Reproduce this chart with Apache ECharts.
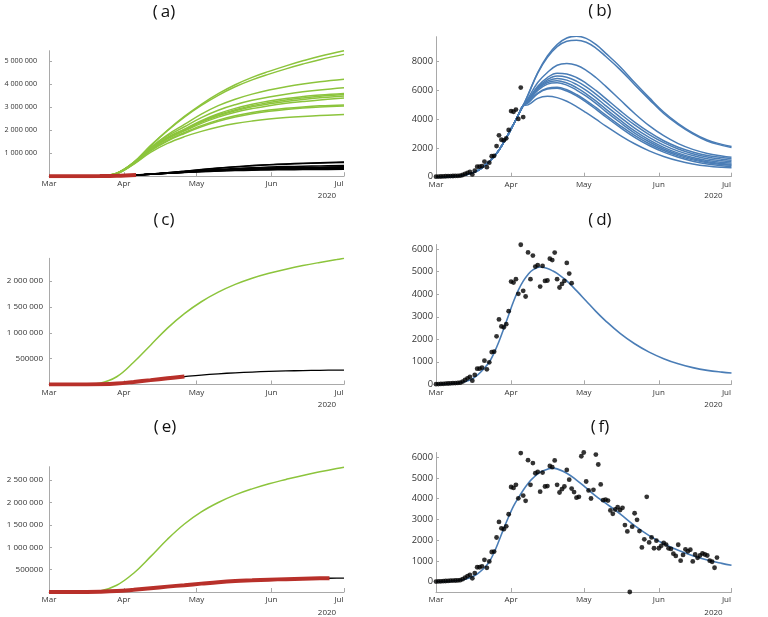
<!DOCTYPE html>
<html><head><meta charset="utf-8">
<script src="https://cdn.jsdelivr.net/npm/echarts@6/dist/echarts.min.js"></script>
<style>html,body{margin:0;padding:0;background:#fff}#c{width:768px;height:617px}</style>
</head><body><div id="c"></div><script>
// ---------- axis / labels ----------
const monthLabels = ['Mar','Apr','May','Jun','Jul'];
const monthDays = [0, 31, 61, 92, 122];          // days since 1 Mar 2020
const yearLabel = '2020';
const panelTitles = ['(\u2009a)','(\u2009b)','(\u2009c)','(\u2009d)','(\u2009e)','(\u2009f)'];

// ---------- observed daily new cases, day 0 = 1 Mar ----------
const dailyCases = [
  5,10,15,20,30,35,45,50,55,60,70,
  120,190,265,330,160,415,695,695,740,1050,
  665,975,1430,1450,2130,2880,2570,2530,2670,3250,
  4565,4520,4670,4020,6200,4150,3900,5860,4670,5720,
  5230,5290,4340,5260,4590,4610,5580,5520,5850,4670,
  4300,4460,4590,5390,4920,4490,4320,4050,4090,6050,
  6230,4830,4400,4010,4430,6130,5650,4690,3930,3960,
  3910,3435,3270,3480,3590,3450,3560,2730,2420,-500,
  2650,3300,2980,2440,1650,2040,4090,1890,2135,1610,
  1975,1610,1730,1870,1790,1605,1580,1350,1240,1780,
  1010,1290,1560,1460,1540,975,1310,1150,1260,1360,
  1310,1260,1010,960,670,1160
];
const dataEndB = 36, dataEndD = 56;

// ---------- observed cumulative cases (red) ----------
const aRedDays = [0,7,14,21,28,36];
const aRed = [10,280,1400,5820,19785,53830];
const cumDays  = [0,7,14,21,28,35,42,49,56,63,70,77,84,91,98,105,112,116];
const cumCases = [10,280,1400,5820,19785,49680,84500,120250,153070,187040,219840,244535,260555,275945,287480,297360,305985,309785];

// ---------- panel (a): green model curves ----------
const aGreenHeadDays = [0,14,21];
const aGreenHead = [0,0,10000];
const aGreenDays = [28,35,42,49,56,63,70,77,84,91,98,105,112,122];
const aGreen1  = [130000,600000,1330000,2000000,2600000,3130000,3590000,3980000,4300000,4560000,4800000,5020000,5220000,5460000];
const aGreen2  = [130000,600000,1320000,1980000,2570000,3080000,3520000,3890000,4190000,4440000,4670000,4880000,5070000,5300000];
const aGreen3  = [130000,590000,1250000,1800000,2250000,2700000,3070000,3350000,3570000,3750000,3890000,4010000,4110000,4220000];
const aGreen4  = [125000,580000,1220000,1750000,2150000,2550000,2870000,3110000,3300000,3450000,3570000,3670000,3755000,3850000];
const aGreen5  = [125000,570000,1190000,1690000,2050000,2420000,2720000,2950000,3130000,3270000,3380000,3465000,3535000,3600000];
const aGreen6  = [125000,565000,1180000,1670000,2020000,2380000,2670000,2890000,3070000,3210000,3320000,3405000,3475000,3550000];
const aGreen7  = [120000,560000,1170000,1650000,2000000,2350000,2630000,2850000,3020000,3150000,3255000,3340000,3410000,3490000];
const aGreen8  = [120000,555000,1150000,1620000,1970000,2300000,2570000,2780000,2940000,3070000,3170000,3250000,3320000,3400000];
const aGreen9  = [120000,545000,1120000,1560000,1900000,2200000,2440000,2630000,2770000,2875000,2955000,3015000,3060000,3100000];
const aGreen10 = [118000,540000,1100000,1530000,1860000,2150000,2390000,2580000,2720000,2825000,2905000,2965000,3010000,3050000];
const aGreen11 = [115000,520000,1040000,1430000,1720000,1950000,2140000,2290000,2400000,2485000,2550000,2600000,2640000,2680000];

// ---------- panel (a): black model cumulative curves ----------
const aBlackHeadDays = [0,14,21,28,36];
const aBlackHead = [0,1400,5800,19800,54000];
const aBlackDays = [42,49,56,63,70,77,84,91,98,105,112,122];
const aBlack1  = [93000,152000,220000,290000,356000,414000,464000,505000,538000,565000,587000,615000];
const aBlack2  = [92000,150000,216000,284000,348000,404000,452000,491000,523000,549000,570000,597000];
const aBlack3  = [90000,140000,195000,248000,296000,337000,371000,398000,419000,435000,448000,463000];
const aBlack4  = [89000,137000,187000,233000,274000,308000,335000,356000,372000,385000,396000,409000];
const aBlack5  = [88000,135000,183000,227000,266000,298000,323000,343000,358000,370000,380000,392000];
const aBlack6  = [88000,134000,180000,223000,260000,290000,314000,333000,347000,358000,367000,378000];
const aBlack7  = [87000,132000,177000,218000,254000,283000,306000,324000,337000,347000,355000,365000];
const aBlack8  = [87000,131000,175000,215000,250000,278000,300000,317000,329000,339000,346000,355000];
const aBlack9  = [86000,128000,170000,208000,240000,266000,287000,302000,313000,322000,329000,337000];
const aBlack10 = [86000,127000,168000,205000,236000,261000,281000,295000,306000,314000,320000,327000];
const aBlack11 = [84000,122000,159000,192000,219000,241000,257000,269000,278000,284000,289000,295000];

// ---------- panel (b): blue model daily curves ----------
const bRiseDays = [0,7,10,14,17,20,22,24,26,28,30,32,34,36];
const bRise = [0,20,60,200,400,760,1050,1400,1850,2400,3000,3650,4300,4950];
const bTailDays = [38,42,46,50,54,58,62,66,70,76,82,88,94,100,106,112,118,122];
const bBlue1  = [5700,7250,8400,9200,9650,9780,9620,9200,8600,7650,6550,5500,4500,3700,3050,2550,2250,2100];
const bBlue2  = [5680,7200,8300,9050,9430,9500,9350,8950,8380,7450,6400,5380,4400,3620,2980,2480,2180,2030];
const bBlue3  = [5450,6550,7250,7750,7870,7750,7400,6900,6300,5350,4400,3550,2850,2300,1900,1620,1440,1350];
const bBlue4  = [5350,6300,6900,7200,7150,6900,6500,6000,5450,4600,3800,3100,2500,2050,1720,1480,1330,1250];
const bBlue5  = [5300,6200,6750,7000,6920,6650,6250,5750,5200,4380,3600,2930,2370,1930,1600,1370,1220,1150];
const bBlue6  = [5280,6150,6650,6840,6720,6420,6000,5500,4950,4150,3380,2740,2200,1780,1470,1250,1110,1050];
const bBlue7  = [5250,6080,6550,6680,6520,6200,5770,5270,4720,3930,3180,2560,2040,1640,1340,1130,1000,950];
const bBlue8  = [5220,6000,6440,6540,6370,6030,5600,5100,4550,3770,3040,2430,1930,1540,1250,1040,920,870];
const bBlue9  = [5150,5820,6150,6220,6050,5720,5300,4820,4300,3560,2870,2290,1820,1450,1170,970,850,800];
const bBlue10 = [5130,5780,6100,6150,5960,5620,5190,4700,4170,3430,2740,2170,1710,1350,1080,890,770,720];
const bBlue11 = [5000,5450,5590,5500,5250,4880,4450,4000,3530,2880,2290,1800,1410,1110,890,740,650,620];

// ---------- panels (c) / (e): single model run ----------
const ceDays = [0,7,14,21,28,35,42,49,56,63,70,77,84,91,98,105,112,119,122];
const cGreen = [0,0,0,26000,150000,430000,760000,1090000,1370000,1600000,1785000,1935000,2055000,2150000,2230000,2300000,2360000,2415000,2440000];
const eGreen = [0,0,0,22000,150000,420000,790000,1180000,1520000,1790000,2000000,2170000,2305000,2420000,2515000,2605000,2685000,2760000,2790000];
const cBlack = [0,300,1400,6000,20000,50000,85000,121000,153000,183000,207000,226000,241000,253000,262000,269000,274000,278000,279000];
const eBlack = [0,300,1400,6000,20000,50000,85000,121000,155000,188000,218000,242000,260000,275000,287000,297000,305000,310000,312000];

// ---------- panels (d) / (f): single fitted daily curve ----------
const fitDays = [0,5,10,14,17,20,22,24,26,28,30,32,34,36,38,40,43,46,48,50,54,58,62,66,70,76,82,88,94,100,106,112,118,122];
const dFit = [0,10,70,190,400,720,990,1400,1900,2480,3080,3680,4180,4580,4880,5080,5210,5140,5050,4930,4590,4160,3700,3240,2820,2260,1800,1430,1140,910,740,620,540,500];
const fFit = [0,10,70,190,370,670,960,1410,1970,2570,3130,3640,4045,4410,4735,4990,5280,5425,5475,5440,5230,4900,4520,4130,3790,3270,2700,2220,1830,1510,1250,1040,880,790];

// ---------- build ----------
const GREEN = '#8cc43c', BLUE = '#4a7db6', RED = '#b8302a', BLACK = '#000000', AXIS = '#a9a9a9', TXT = '#333333';
const FONT = 'Open Sans';

function pairs(d, v) { return d.map((x, i) => [x, v[i]]); }
function grp(v) {
  if (Math.abs(v) >= 1000000) return String(v).replace(/\B(?=(\d{3})+(?!\d))/g, ' ');
  return String(v);
}

const grids = [
  {left: 49,  top: 50.7,  width: 295,   height: 125.5},
  {left: 436, top: 36.7,  width: 295.5, height: 140},
  {left: 49,  top: 258.3, width: 295,   height: 126.2},
  {left: 436, top: 244.5, width: 295.5, height: 139.8},
  {left: 49,  top: 466.7, width: 295,   height: 125.3},
  {left: 436, top: 452.5, width: 295.5, height: 139.5}
];
const yRanges = [[0,5460000],[0,9740],[0,2440000],[0,6210],[0,2800000],[-500,6230]];
const yTicks = [
  [1000000,2000000,3000000,4000000,5000000],
  [0,2000,4000,6000,8000],
  [500000,1000000,1500000,2000000],
  [0,1000,2000,3000,4000,5000,6000],
  [500000,1000000,1500000,2000000,2500000],
  [0,1000,2000,3000,4000,5000,6000]
];
const yFont = [7.2, 9.3, 8, 9.3, 8, 9.3];
const yMargin = [12, 3, 6, 3, 6, 3];

const xAxes = grids.map((g, i) => ({
  gridIndex: i, type: 'value', min: 0, max: 122,
  axisLine: {show: true, onZero: false, lineStyle: {color: AXIS, width: 1}},
  axisTick: {show: true, inside: true, length: 4, customValues: monthDays, lineStyle: {color: AXIS}},
  axisLabel: {
    show: true, customValues: monthDays, fontSize: 8, color: TXT, fontFamily: FONT, margin: 4,
    formatter: v => { const k = monthDays.indexOf(v); const s = k >= 0 ? monthLabels[k] : ''; return k === 4 ? '{j|' + s + '}' : s; },
    rich: {j: {fontSize: 8, color: TXT, fontFamily: FONT, padding: [0, 10, 0, 0]}}
  },
  splitLine: {show: false}
}));
const yAxes = grids.map((g, i) => ({
  gridIndex: i, type: 'value', min: yRanges[i][0], max: yRanges[i][1],
  axisLine: {show: true, onZero: false, lineStyle: {color: AXIS, width: 1}},
  axisTick: {show: true, inside: true, length: 3, customValues: yTicks[i], lineStyle: {color: AXIS}},
  axisLabel: {show: true, customValues: yTicks[i], fontSize: yFont[i], color: TXT, fontFamily: FONT, margin: yMargin[i], formatter: v => grp(v)},
  splitLine: {show: false}
}));

const series = [];
function line(gi, data, color, width, z) {
  series.push({type: 'line', xAxisIndex: gi, yAxisIndex: gi, data: data, smooth: 0.4,
    showSymbol: false, symbol: 'none', silent: true, animation: false, z: z || 2,
    lineStyle: {color: color, width: width}});
}
function dots(gi, n) {
  series.push({type: 'scatter', xAxisIndex: gi, yAxisIndex: gi, silent: true, animation: false, z: 5,
    symbolSize: 4.8, itemStyle: {color: '#000'},
    data: dailyCases.slice(0, n + 1).map((v, i) => [i, v])});
}

// (a)
[aGreen1,aGreen2,aGreen3,aGreen4,aGreen5,aGreen6,aGreen7,aGreen8,aGreen9,aGreen10,aGreen11].forEach(g =>
  line(0, pairs(aGreenHeadDays.concat(aGreenDays), aGreenHead.concat(g)), GREEN, 1.5, 2));
[aBlack1,aBlack2,aBlack3,aBlack4,aBlack5,aBlack6,aBlack7,aBlack8,aBlack9,aBlack10,aBlack11].forEach(b =>
  line(0, pairs(aBlackHeadDays.concat(aBlackDays), aBlackHead.concat(b)), BLACK, 1.4, 3));
line(0, pairs(aRedDays, aRed), RED, 4, 4);

// (b)
[bBlue1,bBlue2,bBlue3,bBlue4,bBlue5,bBlue6,bBlue7,bBlue8,bBlue9,bBlue10,bBlue11].forEach(b =>
  line(1, pairs(bRiseDays.concat(bTailDays), bRise.concat(b)), BLUE, 1.5, 2));
dots(1, dataEndB);

// (c)
line(2, pairs(ceDays, cGreen), GREEN, 1.5, 2);
line(2, pairs(ceDays, cBlack), BLACK, 1.3, 3);
line(2, pairs(cumDays.slice(0, 9), cumCases.slice(0, 9)), RED, 4, 4);

// (d)
line(3, pairs(fitDays, dFit), BLUE, 1.6, 2);
dots(3, dataEndD);

// (e)
line(4, pairs(ceDays, eGreen), GREEN, 1.5, 2);
line(4, pairs(ceDays, eBlack), BLACK, 1.3, 3);
line(4, pairs(cumDays, cumCases), RED, 4, 4);

// (f)
line(5, pairs(fitDays, fFit), BLUE, 1.6, 2);
dots(5, dailyCases.length - 1);

const titlePos = [[164, 12.5], [600, 11.5], [164, 220], [600, 220], [165, 427.5], [600, 427.5]];
const yearPos  = [[327, 196], [713.5, 196], [327, 404.5], [713.5, 404.5], [327, 612.3], [713.5, 612.3]];
const graphic = [];
panelTitles.forEach((t, i) => graphic.push({type: 'text', x: titlePos[i][0], y: titlePos[i][1], silent: true,
  style: {text: t, align: 'center', verticalAlign: 'middle', fontSize: 17, fontFamily: FONT, fill: '#111'}}));
yearPos.forEach(p => graphic.push({type: 'text', x: p[0], y: p[1], silent: true,
  style: {text: yearLabel, align: 'center', verticalAlign: 'middle', fontSize: 8, fontFamily: FONT, fill: TXT}}));

const chart = echarts.init(document.getElementById('c'), null, {renderer: 'canvas'});
chart.setOption({animation: false, backgroundColor: '#fff', grid: grids, xAxis: xAxes, yAxis: yAxes, series: series, graphic: graphic});
</script></body></html>
